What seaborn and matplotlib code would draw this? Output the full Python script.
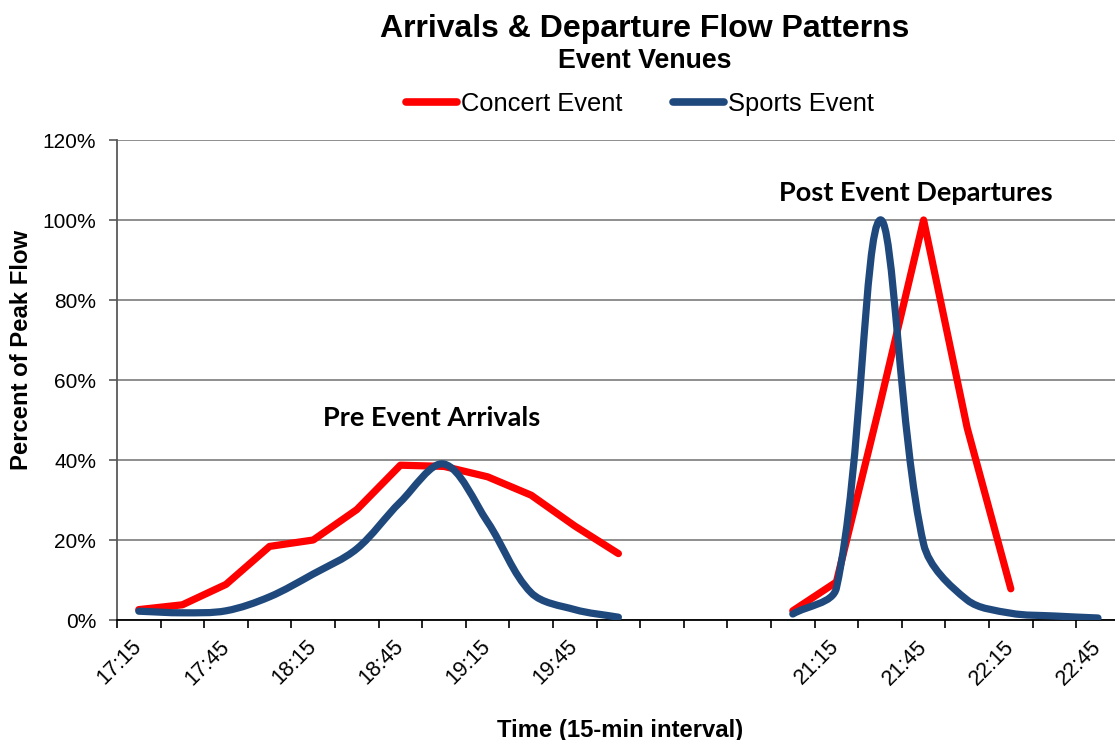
import matplotlib
matplotlib.use("Agg")
import numpy as np
import matplotlib.pyplot as plt
from matplotlib.path import Path
from matplotlib.patches import PathPatch
from matplotlib.lines import Line2D
from matplotlib.ticker import FixedLocator, FuncFormatter
import seaborn as sns

# 15-min categories on the x axis
TIMES = ["17:15", "17:30", "17:45", "18:00", "18:15", "18:30", "18:45", "19:00",
         "19:15", "19:30", "19:45", "20:00", "20:15", "20:30", "20:45", "21:00",
         "21:15", "21:30", "21:45", "22:00", "22:15", "22:30", "22:45"]
SHOWN_LABELS = ["17:15", "17:45", "18:15", "18:45", "19:15", "19:45",
                "21:15", "21:45", "22:15", "22:45"]

# percent of peak flow
PRE_TIMES = ["17:15", "17:30", "17:45", "18:00", "18:15", "18:30",
             "18:45", "19:00", "19:15", "19:30", "19:45", "20:00"]
concert_pre = [2.6, 3.8, 8.9, 18.4, 20.0, 27.6, 38.7, 38.4, 35.8, 31.2, 23.5, 16.6]
sports_pre = [2.2, 1.8, 2.3, 5.8, 11.5, 17.8, 29.5, 39.0, 24.5, 6.8, 2.6, 0.7]

CONCERT_POST_TIMES = ["21:00", "21:15", "21:30", "21:45", "22:00", "22:15"]
concert_post = [2.3, 9.5, 54.0, 100.0, 48.0, 7.8]
SPORTS_POST_TIMES = ["21:00", "21:15", "21:30", "21:45", "22:00", "22:15", "22:30", "22:45"]
sports_post = [1.5, 8.0, 100.0, 19.0, 5.0, 1.7, 1.0, 0.5]

RED = "#FF0000"
BLUE = "#1F497D"
LW = 5.2

sns.set_style("white")
plt.rcParams["font.family"] = ["Liberation Sans", "DejaVu Sans"]
for k in ["text.color", "axes.labelcolor", "xtick.color", "ytick.color"]:
    plt.rcParams[k] = "black"


def pos(labels):
    return [TIMES.index(t) for t in labels]


def smooth_path(ax, xs, ys):
    # Excel-like smoothed line: Bezier through the points, worked out in
    # screen space, with control arms scaled by the neighbouring chord lengths
    pts = ax.transData.transform(np.column_stack([xs, ys]).astype(float))
    n = len(pts)

    def arms(i):
        a, b = pts[max(i - 1, 0)], pts[min(i + 1, n - 1)]
        d = b - a
        dp = np.hypot(*(pts[i] - a))
        dn = np.hypot(*(b - pts[i]))
        s = dp + dn
        return d * dp / s / 3.0, d * dn / s / 3.0

    verts = [pts[0]]
    codes = [Path.MOVETO]
    for i in range(n - 1):
        fwd = arms(i)[1]
        back = arms(i + 1)[0]
        verts += [pts[i] + fwd, pts[i + 1] - back, pts[i + 1]]
        codes += [Path.CURVE4] * 3
    return ax.transData.inverted().transform_path(Path(verts, codes))


fig = plt.figure(figsize=(11.15, 7.40), dpi=100)
ax = fig.add_axes([117 / 1115, 120 / 740, 998 / 1115, 480 / 740])
ax.set_xlim(-0.5, -0.5 + 998 / 43.6)
ax.set_ylim(0, 120)

# concert: straight segments
for t, v in [(PRE_TIMES, concert_pre), (CONCERT_POST_TIMES, concert_post)]:
    sns.lineplot(x=pos(t), y=v, color=RED, lw=LW, ax=ax,
                 solid_capstyle="round", solid_joinstyle="round", zorder=3)

# sports: smoothed segments
for t, v in [(PRE_TIMES, sports_pre), (SPORTS_POST_TIMES, sports_post)]:
    ax.add_patch(PathPatch(smooth_path(ax, pos(t), v), facecolor="none", edgecolor=BLUE,
                           lw=LW, capstyle="round", joinstyle="round", zorder=4))

ax.set_xlim(-0.5, -0.5 + 998 / 43.6)
ax.set_ylim(0, 120)

# y axis
ax.set_yticks(range(0, 121, 20))
ax.yaxis.set_major_formatter(FuncFormatter(lambda v, _: f"{v:.0f}%"))
ax.tick_params(axis="y", direction="out", length=6, width=1.2, color="#595959",
               labelsize=15, pad=9, left=True)
ax.yaxis.grid(True, color="#868686", lw=1.3)
ax.set_axisbelow(True)

# x axis: labels at category centres, ticks at category boundaries
ax.set_xticks(pos(SHOWN_LABELS))
ax.set_xticklabels(SHOWN_LABELS, rotation=45, ha="right", va="center",
                   rotation_mode="anchor", fontsize=15.5)
ax.xaxis.set_minor_locator(FixedLocator(np.arange(-0.5, len(TIMES), 1.0)))
ax.tick_params(axis="x", which="major", length=0, pad=17)
ax.tick_params(axis="x", which="minor", direction="out", length=6, width=1.2,
               color="#000000", bottom=True)

for s in ["top", "right"]:
    ax.spines[s].set_visible(False)
ax.spines["left"].set_color("#595959")
ax.spines["left"].set_linewidth(1.3)
ax.spines["bottom"].set_color("#000000")
ax.spines["bottom"].set_linewidth(1.3)

ax.set_ylabel("Percent of Peak Flow", fontsize=17.2, fontweight="bold")
ax.yaxis.set_label_coords(-0.084, 0.5625)
ax.set_xlabel("Time (15-min interval)", fontsize=17.2, fontweight="bold")
ax.xaxis.set_label_coords(0.504, -0.206)

# annotations
ax.text(6.72, 50.5, "Pre Event Arrivals", ha="center", va="center",
        fontsize=19.5, fontweight="bold", family=["Lato", "DejaVu Sans"])
ax.text(17.83, 106.8, "Post Event Departures", ha="center", va="center",
        fontsize=19.5, fontweight="bold", family=["Lato", "DejaVu Sans"])

# titles
fig.text(645 / 1115, 1 - 29 / 740, "Arrivals & Departure Flow Patterns",
         ha="center", va="center", fontsize=23, fontweight="bold")
fig.text(645 / 1115, 1 - 61 / 740, "Event Venues",
         ha="center", va="center", fontsize=19.3, fontweight="bold")

handles = [Line2D([], [], color=RED, lw=5.5, solid_capstyle="round"),
           Line2D([], [], color=BLUE, lw=5.5, solid_capstyle="round")]
fig.legend(handles, ["Concert Event", "Sports Event"], loc="center",
           bbox_to_anchor=(640 / 1115, 1 - 104 / 740), ncol=2, frameon=False,
           fontsize=18.4, handlelength=2.0, handletextpad=0.15, columnspacing=2.0)

fig.savefig("out.png", dpi=100)
